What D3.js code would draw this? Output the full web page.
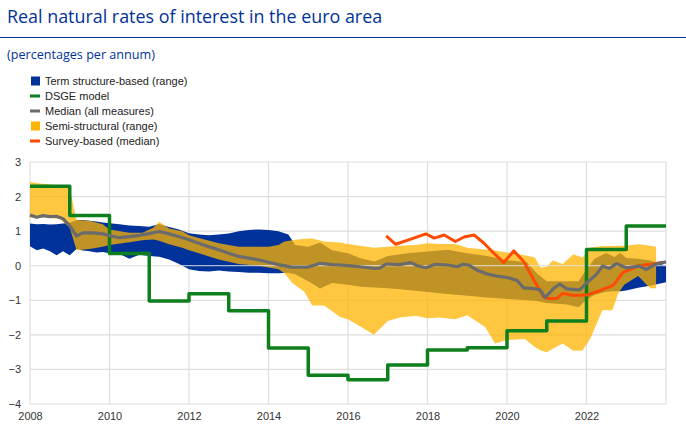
<!DOCTYPE html>
<html>
<head>
<meta charset="utf-8">
<script src="https://cdnjs.cloudflare.com/ajax/libs/d3/7.8.5/d3.min.js"></script>
<style>
  body { margin: 0; background: #fff; }
  text { font-family: "Liberation Sans", Arial, sans-serif; }
</style>
</head>
<body>
<div class="chart"></div>
<script>
// term structure-based range
var termDates = [2008.0, 2008.17, 2008.33, 2008.5, 2008.67, 2008.83, 2009.0, 2009.17, 2009.33, 2009.5,
  2009.67, 2009.83, 2010.0, 2010.25, 2010.5, 2010.75, 2011.0, 2011.25, 2011.5, 2011.75,
  2012.0, 2012.25, 2012.5, 2012.75, 2013.0, 2013.25, 2013.5, 2013.75, 2014.0, 2014.25,
  2014.5, 2014.67, 2015.0, 2015.3, 2015.6, 2016.0, 2016.33, 2016.67, 2017.0, 2017.5,
  2018.0, 2018.5, 2019.0, 2019.5, 2020.0, 2020.5, 2020.75, 2021.0, 2021.5, 2021.8,
  2022.0, 2022.2, 2022.5, 2022.7, 2022.85, 2023.0, 2023.3, 2023.6, 2024.0];
var termHigh = [1.22, 1.2, 1.21, 1.19, 1.2, 1.22, 1.24, 1.32, 1.32, 1.3,
  1.28, 1.25, 1.23, 1.2, 1.16, 1.15, 1.13, 1.21, 1.12, 1.05,
  0.94, 0.9, 0.88, 0.9, 0.93, 1.0, 1.03, 1.05, 1.03, 1.0,
  0.9, 0.6, 0.55, 0.67, 0.45, 0.36, 0.21, 0.12, 0.28, 0.36,
  0.41, 0.46, 0.36, 0.28, 0.16, 0.1, -0.22, -0.45, -0.45, -0.45,
  -0.1, 0.2, 0.37, 0.25, 0.37, 0.22, 0.2, 0.15, 0.0];
var termLow = [0.56, 0.45, 0.5, 0.42, 0.3, 0.42, 0.3, 0.48, 0.44, 0.42,
  0.38, 0.4, 0.36, 0.34, 0.2, 0.32, 0.28, 0.26, 0.18, 0.05,
  -0.1, -0.15, -0.17, -0.14, -0.17, -0.18, -0.2, -0.2, -0.22, -0.22,
  -0.2, -0.25, -0.45, -0.66, -0.5, -0.55, -0.61, -0.63, -0.65, -0.7,
  -0.76, -0.82, -0.87, -0.92, -0.96, -1.0, -1.02, -1.08, -1.12, -1.2,
  -0.98, -0.85, -0.75, -0.74, -0.74, -0.72, -0.64, -0.58, -0.48];

// semi-structural range
var semiDates = [2008.0, 2008.25, 2008.5, 2008.75, 2009.0, 2009.17, 2009.5, 2009.83, 2010.0, 2010.5,
  2010.83, 2011.1, 2011.25, 2011.5, 2011.83, 2012.0, 2012.25, 2012.75, 2013.25, 2013.75,
  2014.0, 2014.25, 2014.4, 2014.6, 2014.9, 2015.1, 2015.4, 2015.8, 2016.0, 2016.3,
  2016.65, 2017.0, 2017.3, 2017.7, 2018.0, 2018.3, 2018.7, 2019.0, 2019.45, 2019.7,
  2020.0, 2020.45, 2020.7, 2020.85, 2021.0, 2021.15, 2021.4, 2021.67, 2021.9, 2022.1,
  2022.4, 2022.65, 2022.8, 2022.95, 2023.3, 2023.6, 2023.75];
var semiHigh = [2.42, 2.38, 2.35, 2.33, 2.25, 1.32, 1.3, 1.2, 1.05, 0.95,
  0.95, 1.1, 1.27, 1.08, 1.0, 0.88, 0.8, 0.65, 0.55, 0.55,
  0.55, 0.6, 0.7, 0.74, 0.78, 0.79, 0.7, 0.67, 0.63, 0.58,
  0.52, 0.55, 0.58, 0.6, 0.65, 0.63, 0.63, 0.52, 0.47, 0.44,
  0.38, 0.3, 0.24, -0.06, -0.03, 0.15, 0.05, 0.33, 0.24, 0.53,
  0.57, 0.57, 0.58, 0.58, 0.62, 0.58, 0.55];
var semiLow = [1.38, 1.4, 1.38, 1.35, 1.1, 0.45, 0.48, 0.55, 0.6, 0.68,
  0.74, 0.76, 0.72, 0.62, 0.52, 0.45, 0.36, 0.18, 0.05, 0.0,
  -0.05, -0.1, -0.22, -0.5, -0.75, -1.15, -1.15, -1.48, -1.55, -1.75,
  -2.0, -1.6, -1.5, -1.45, -1.52, -1.5, -1.55, -1.43, -1.77, -2.25,
  -2.15, -2.12, -2.35, -2.45, -2.5, -2.4, -2.25, -2.46, -2.45, -2.1,
  -1.29, -1.29, -0.8, -0.55, -0.3, -0.65, -0.65];

// DSGE model (annual, held through the year)
var dsgeYears = [2008, 2009, 2010, 2011, 2012, 2013, 2014, 2015, 2016, 2017, 2018, 2019, 2020, 2021, 2022, 2023, 2024];
var dsgeValues = [2.3, 1.45, 0.35, -1.02, -0.81, -1.3, -2.38, -3.17, -3.3, -2.87, -2.44, -2.37, -1.88, -1.6, 0.47, 1.15, 1.15];

// median of all measures
var medianDates = [2008.0, 2008.17, 2008.33, 2008.5, 2008.67, 2008.83, 2009.0, 2009.17, 2009.33, 2009.58,
  2009.83, 2010.0, 2010.25, 2010.5, 2010.75, 2011.0, 2011.25, 2011.5, 2011.75, 2012.0,
  2012.25, 2012.5, 2012.75, 2013.0, 2013.25, 2013.5, 2013.75, 2014.0, 2014.25, 2014.58,
  2015.0, 2015.3, 2015.6, 2015.8, 2016.0, 2016.3, 2016.67, 2016.8, 2016.96, 2017.3,
  2017.58, 2017.75, 2017.96, 2018.2, 2018.5, 2018.75, 2018.88, 2019.04, 2019.25, 2019.5,
  2019.75, 2020.0, 2020.25, 2020.42, 2020.67, 2020.83, 2020.96, 2021.17, 2021.33, 2021.5,
  2021.83, 2022.0, 2022.25, 2022.4, 2022.58, 2022.75, 2023.0, 2023.33, 2023.5, 2023.75, 2024.0];
var medianValues = [1.47, 1.4, 1.45, 1.42, 1.43, 1.36, 1.15, 0.86, 0.95, 0.95,
  0.92, 0.87, 0.81, 0.84, 0.88, 0.93, 0.99, 0.92, 0.84, 0.75,
  0.65, 0.55, 0.46, 0.36, 0.27, 0.22, 0.17, 0.1, 0.03, -0.04,
  -0.04, 0.07, 0.03, 0.02, 0.0, -0.03, -0.08, -0.07, 0.05, 0.03,
  0.09, 0.0, -0.06, 0.04, 0.02, -0.03, 0.04, 0.02, -0.13, -0.24,
  -0.3, -0.34, -0.42, -0.64, -0.66, -0.7, -0.92, -0.66, -0.53, -0.67,
  -0.7, -0.5, -0.25, -0.01, -0.08, 0.06, -0.06, -0.01, -0.11, 0.05, 0.11];

// survey-based median
var surveyDates = [2016.96, 2017.2, 2017.58, 2017.96, 2018.17, 2018.42, 2018.7, 2018.92, 2019.17, 2019.42,
  2019.67, 2019.92, 2020.17, 2020.42, 2020.63, 2020.92, 2021.04, 2021.25, 2021.4, 2021.67,
  2022.0, 2022.33, 2022.67, 2022.92, 2023.33, 2023.67, 2023.92];
var surveyValues = [0.86, 0.62, 0.77, 0.92, 0.8, 0.89, 0.7, 0.83, 0.89, 0.65,
  0.36, 0.09, 0.43, 0.12, -0.32, -0.9, -0.95, -0.95, -0.8, -0.86,
  -0.85, -0.72, -0.57, -0.19, 0.0, 0.05, 0.1];

var xTicks = [2008, 2010, 2012, 2014, 2016, 2018, 2020, 2022, 2024];
var xLabels = [2008, 2010, 2012, 2014, 2016, 2018, 2020, 2022];
var yTicks = [-4, -3, -2, -1, 0, 1, 2, 3];

var legendItems = [
  { label: "Term structure-based (range)", type: "box", color: "#003299" },
  { label: "DSGE model", type: "line", color: "#0e7f1d" },
  { label: "Median (all measures)", type: "line", color: "#6b6b6b" },
  { label: "Semi-structural (range)", type: "box", color: "#ffb400" },
  { label: "Survey-based (median)", type: "line", color: "#ff4b00" }
];

function zip(dates) {
  var cols = Array.prototype.slice.call(arguments, 1);
  return dates.map(function(t, i) {
    return { t: t, a: cols[0][i], b: cols[1] ? cols[1][i] : null };
  });
}

var svg = d3.select(".chart").append("svg")
    .attr("width", 686)
    .attr("height", 432);

// title block
svg.append("text")
    .attr("x", 7)
    .attr("y", 23)
    .style("font-family", "'Open Sans', sans-serif")
    .style("font-size", "17.9px")
    .style("fill", "#003299")
    .text("Real natural rates of interest in the euro area");

svg.append("line")
    .attr("x1", 0)
    .attr("x2", 686)
    .attr("y1", 37.5)
    .attr("y2", 37.5)
    .style("stroke", "#003299")
    .style("stroke-width", 1);

svg.append("text")
    .attr("x", 7)
    .attr("y", 59)
    .style("font-family", "'Open Sans', sans-serif")
    .style("font-size", "12.6px")
    .style("fill", "#003299")
    .text("(percentages per annum)");

// legend
var legend = svg.selectAll(".legend")
    .data(legendItems)
  .enter().append("g")
    .attr("transform", function(d, i) { return "translate(30," + (81 + i * 15) + ")"; });

legend.append("rect")
    .attr("x", function(d) { return d.type == "box" ? 1 : 0; })
    .attr("y", function(d) { return d.type == "box" ? -4.5 : -1.5; })
    .attr("width", function(d) { return d.type == "box" ? 9 : 10; })
    .attr("height", function(d) { return d.type == "box" ? 9 : 3; })
    .style("fill", function(d) { return d.color; });

legend.append("text")
    .attr("x", 15)
    .attr("y", 4)
    .style("font-size", "11px")
    .style("fill", "#222")
    .text(function(d) { return d.label; });

// scales
var x = d3.scaleLinear().domain([2008, 2024]).range([30, 666]);
var y = d3.scaleLinear().domain([-4, 3]).range([404, 162]);

var grid = svg.append("g");

grid.selectAll(".hgrid")
    .data(yTicks)
  .enter().append("line")
    .attr("x1", x(2008))
    .attr("x2", x(2024))
    .attr("y1", function(d) { return y(d); })
    .attr("y2", function(d) { return y(d); });

grid.selectAll(".vgrid")
    .data(xTicks)
  .enter().append("line")
    .attr("x1", function(d) { return x(d); })
    .attr("x2", function(d) { return x(d); })
    .attr("y1", y(3))
    .attr("y2", y(-4));

grid.selectAll("line")
    .style("stroke", "#dedede")
    .style("stroke-width", 1.2);

// axes labels
var yAxis = svg.append("g")
    .attr("transform", "translate(" + x(2008) + ",0)")
    .call(d3.axisLeft(y).tickValues(yTicks).tickSize(0).tickPadding(9).tickFormat(d3.format("d")));

var xAxis = svg.append("g")
    .attr("transform", "translate(0," + y(-4) + ")")
    .call(d3.axisBottom(x).tickValues(xLabels).tickSize(0).tickPadding(8).tickFormat(d3.format("d")));

svg.selectAll(".domain").remove();
svg.selectAll(".tick text")
    .style("font-family", "'Liberation Sans', Arial, sans-serif")
    .style("font-size", "11px")
    .style("fill", "#333");

// bands
var band = d3.area()
    .x(function(d) { return x(d.t); })
    .y0(function(d) { return y(d.b); })
    .y1(function(d) { return y(d.a); });

svg.append("path")
    .datum(zip(termDates, termHigh, termLow))
    .attr("d", band)
    .style("fill", "#003299");

svg.append("path")
    .datum(zip(semiDates, semiHigh, semiLow))
    .attr("d", band)
    .style("fill", "#ffb400")
    .style("fill-opacity", 0.75);

// zero line sits over the bands
svg.append("line")
    .attr("x1", x(2008))
    .attr("x2", x(2024))
    .attr("y1", y(0))
    .attr("y2", y(0))
    .style("stroke", "#e4e4e4")
    .style("stroke-opacity", 0.75)
    .style("stroke-width", 1.2);

// lines
var line = d3.line()
    .x(function(d) { return x(d.t); })
    .y(function(d) { return y(d.a); });

svg.append("path")
    .datum(zip(dsgeYears, dsgeValues))
    .attr("d", line.curve(d3.curveStepAfter))
    .style("stroke", "#0e7f1d")
    .style("stroke-width", 3.5);

line.curve(d3.curveLinear);

svg.append("path")
    .datum(zip(surveyDates, surveyValues))
    .attr("d", line)
    .style("stroke", "#ff4b00")
    .style("stroke-width", 3);

svg.append("path")
    .datum(zip(medianDates, medianValues))
    .attr("d", line)
    .style("stroke", "#6b6b6b")
    .style("stroke-width", 3.2);

svg.selectAll("path")
    .filter(function() { return this.style.stroke; })
    .style("fill", "none")
    .style("stroke-linejoin", "round");
</script>
</body>
</html>
